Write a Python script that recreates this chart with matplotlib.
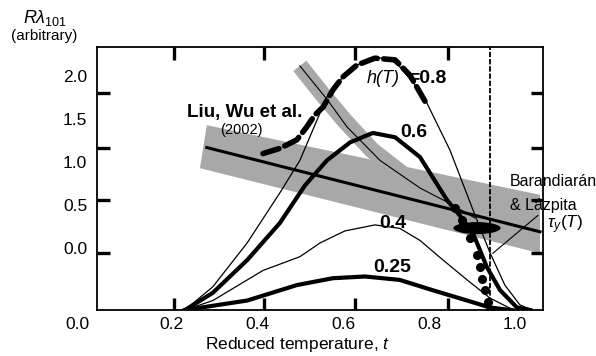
import numpy as np
import matplotlib
matplotlib.use("Agg")
import matplotlib.pyplot as plt
from matplotlib.patches import Ellipse, Polygon

plt.rcParams['font.family'] = ['Liberation Sans', 'DejaVu Sans']
plt.rcParams['mathtext.fontset'] = 'custom'
plt.rcParams['mathtext.rm'] = 'Liberation Sans'
plt.rcParams['mathtext.it'] = 'Liberation Sans:italic'

# --- model curves, R*lambda_101 vs reduced temperature t, for several h(T) ---
t_08 = [0.231, 0.296, 0.376, 0.452, 0.499, 0.562, 0.599, 0.632, 0.674, 0.709,
        0.732, 0.772, 0.795, 0.849, 0.903, 0.942, 0.977, 1.012, 1.040]
r_08 = [-0.72, -0.45, 0.06, 0.64, 1.02, 1.76, 1.99, 2.13, 2.22, 2.20,
        2.11, 1.87, 1.69, 1.14, 0.44, -0.05, -0.43, -0.66, -0.72]

t_06 = [0.231, 0.296, 0.376, 0.452, 0.511, 0.562, 0.616, 0.669, 0.721, 0.779,
        0.842, 0.872, 0.903, 0.935, 0.966, 1.005, 1.036]
r_06 = [-0.72, -0.52, -0.14, 0.29, 0.73, 1.02, 1.23, 1.34, 1.29, 1.06,
        0.56, 0.38, 0.17, -0.22, -0.49, -0.69, -0.72]

t_04 = [0.231, 0.296, 0.413, 0.499, 0.546, 0.604, 0.674, 0.732, 0.779, 0.826,
        0.889, 0.942, 0.989, 1.012]
r_04 = [-0.72, -0.61, -0.26, -0.10, 0.06, 0.20, 0.27, 0.23, 0.09, -0.11,
        -0.37, -0.58, -0.70, -0.72]

t_025 = [0.231, 0.376, 0.492, 0.576, 0.651, 0.732, 0.809, 0.889, 0.942, 0.989]
r_025 = [-0.72, -0.61, -0.43, -0.35, -0.33, -0.37, -0.49, -0.61, -0.69, -0.72]

# Liu, Wu et al. (2002) data
t_liu = [0.413, 0.452, 0.492, 0.515, 0.534, 0.553, 0.576, 0.599, 0.632, 0.674,
         0.721, 0.756, 0.793]
r_liu = [1.10, 1.16, 1.26, 1.41, 1.55, 1.64, 1.84, 1.99, 2.13, 2.21,
         2.19, 2.01, 1.69]

# Barandiaran & Lazpita data
t_bl = [0.861, 0.877, 0.896, 0.912, 0.919, 0.924, 0.931, 0.938, 0.942]
r_bl = [0.47, 0.33, 0.12, -0.08, -0.22, -0.36, -0.49, -0.63, -0.72]
bl_blob = (0.912, 0.233)

# tau_y(T) line and its shaded band
t_tau = [0.282, 1.059]
r_tau = [1.17, 0.19]
band_b = [(0.282, 1.43), (1.059, 0.62), (1.059, -0.06), (0.266, 0.93)]

# steep shaded band and its centre line
t_band_a = [0.499, 0.550, 0.604, 0.667, 0.744, 0.826]
r_band_a = [2.12, 1.80, 1.48, 1.14, 0.84, 0.61]
t_thin_a = [0.499, 0.564, 0.609, 0.686, 0.779, 0.856, 0.907]
r_thin_a = [2.12, 1.72, 1.41, 1.02, 0.70, 0.50, 0.35]

t_tc = 0.942
x_labels = ['0.2', '0.4', '0.6', '0.8', '1.0']
x_label_pos = [0.2, 0.4, 0.6, 0.8, 1.0]
y_labels = ['0.0', '0.5', '1.0', '1.5', '2.0']
y_label_pos = [0.0, 0.5, 1.0, 1.5, 2.0]
x_marks = [0.205, 0.415, 0.627, 0.845]
y_marks = [-0.06, 0.56, 1.17, 1.80]

gray = '#a8a8a8'

fig = plt.figure(figsize=(5.96, 3.56), dpi=100)
ax = fig.add_axes([0.1628, 0.1292, 0.7483, 0.7388])
ax.set_xlim(0.026, 1.066)
ax.set_ylim(-0.72, 2.34)

# shaded bands
ax.add_patch(Polygon(band_b, closed=True, facecolor=gray, edgecolor='none', zorder=1))
ax.plot(t_band_a, r_band_a, color=gray, lw=12, solid_capstyle='butt', zorder=1)

# lines
ax.plot(t_tau, r_tau, color='black', lw=2.2, zorder=3)
ax.plot(t_thin_a, r_thin_a, color='black', lw=0.8, zorder=3)
ax.plot(t_08, r_08, color='black', lw=0.9, zorder=3)
ax.plot(t_06, r_06, color='black', lw=3.0, zorder=3)
ax.plot(t_04, r_04, color='black', lw=0.9, zorder=3)
ax.plot(t_025, r_025, color='black', lw=3.0, zorder=3)
ax.plot(t_liu, r_liu, color='black', lw=4.0, ls=(0, (3, 1.15)),
        dash_capstyle='round', zorder=4)
ax.axvline(t_tc, color='black', lw=1.3, ls=(0, (3, 1)), zorder=4)

ax.plot(t_bl, r_bl, 'o', color='black', ms=5.5, zorder=5)
ax.add_patch(Ellipse(bl_blob, 0.110, 0.14, facecolor='black', edgecolor='none', zorder=5))
ax.plot([1.054, 0.949], [0.38, -0.06], color='black', lw=0.8, clip_on=False, zorder=5)

# text labels
ax.text(0.371, 1.58, 'Liu, Wu et al.', fontsize=13.5, fontweight='bold', ha='center', va='center')
ax.text(0.362, 1.37, '(2002)', fontsize=10.5, ha='center', va='center')
ax.text(0.655, 1.977, 'h(T)', fontsize=13, style='italic', ha='left', va='center')
ax.text(0.752, 1.977, '=0.8', fontsize=14, fontweight='bold', ha='left', va='center')
ax.text(0.765, 1.35, '0.6', fontsize=14, fontweight='bold', ha='center', va='center')
ax.text(0.716, 0.29, '0.4', fontsize=14, fontweight='bold', ha='center', va='center')
ax.text(0.714, -0.23, '0.25', fontsize=14, fontweight='bold', ha='center', va='center')
ax.text(0.989, 0.77, 'Barandiarán', fontsize=11.5, ha='left', va='center', clip_on=False)
ax.text(0.989, 0.50, '& Lázpita', fontsize=11.5, ha='left', va='center', clip_on=False)
ax.text(1.076, 0.27, r'$\tau_y(T)$', fontsize=12.5, ha='left', va='center', clip_on=False)

# axes styling
for s in ax.spines.values():
    s.set_linewidth(1.3)
ax.set_xticks(x_label_pos)
ax.set_xticklabels(x_labels)
ax.set_yticks(y_label_pos)
ax.set_yticklabels(y_labels)
ax.tick_params(which='major', length=0, labelsize=12.5)
ax.tick_params(axis='x', which='major', pad=5)
ax.tick_params(axis='y', which='major', pad=7)
ax.set_xticks(x_marks, minor=True)
ax.set_yticks(y_marks, minor=True)
ax.tick_params(which='minor', direction='in', length=9, width=2.4,
               top=True, right=True, bottom=True, left=True)
ax.annotate('0.0', xy=(-0.02, 0), xycoords=('data', 'axes fraction'),
            xytext=(0, -5), textcoords='offset points', fontsize=12.5,
            ha='center', va='top', annotation_clip=False)

fig.text(0.5, 0.033, 'Reduced temperature, $t$', fontsize=12.5, ha='center', va='center')
fig.text(0.076, 0.950, r'$R\lambda_{\mathrm{101}}$', fontsize=13, ha='center', va='center')
fig.text(0.074, 0.900, '(arbitrary)', fontsize=11, ha='center', va='center')

fig.savefig('out.png', dpi=100)
